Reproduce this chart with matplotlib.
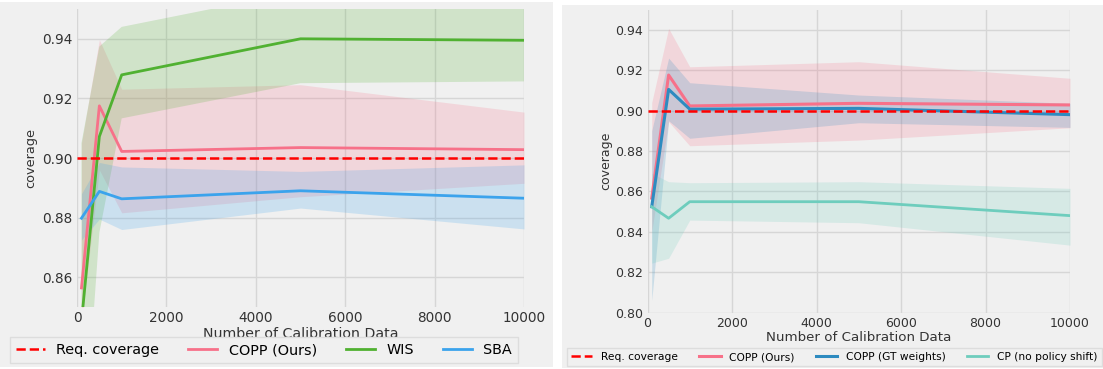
# coverage vs number of calibration data, two panels

import matplotlib
matplotlib.use('Agg')
import matplotlib.pyplot as plt
from matplotlib.patches import Rectangle

# ---- data ----
n_calib = [100, 500, 1000, 5000, 10000]
req_coverage = 0.9

# left panel
copp_left = [0.8564, 0.9175, 0.9022, 0.9035, 0.9028]
copp_left_lo = [0.845, 0.896, 0.8816, 0.887, 0.8915]
copp_left_hi = [0.905, 0.9397, 0.9231, 0.9246, 0.9154]

wis = [0.845, 0.9072, 0.9279, 0.9400, 0.9395]
wis_lo = [0.790, 0.875, 0.9133, 0.9251, 0.9257]
wis_hi = [0.905, 0.9374, 0.944, 0.956, 0.956]

sba = [0.8798, 0.8888, 0.8863, 0.889, 0.8865]
sba_lo = [0.8725, 0.8795, 0.876, 0.8832, 0.8762]
sba_hi = [0.888, 0.8985, 0.897, 0.8955, 0.8977]

# right panel
copp_right = [0.8567, 0.9176, 0.9023, 0.9036, 0.9028]
copp_right_lo = [0.840, 0.8945, 0.8826, 0.8854, 0.8915]
copp_right_hi = [0.904, 0.9407, 0.9217, 0.9242, 0.916]

copp_gt = [0.8524, 0.9105, 0.9007, 0.9011, 0.898]
copp_gt_lo = [0.806, 0.895, 0.8863, 0.894, 0.8917]
copp_gt_hi = [0.890, 0.926, 0.9138, 0.9077, 0.9036]

cp = [0.8524, 0.8467, 0.8549, 0.8549, 0.848]
cp_lo = [0.8245, 0.8269, 0.8458, 0.8445, 0.8334]
cp_hi = [0.869, 0.8648, 0.8643, 0.8648, 0.8615]

# colours
BG = '#f0f0f0'
RED = '#ff0000'
PINK = '#f77189'
GREEN = '#50b131'
BLUE = '#3ba3ec'
DBLUE = '#2e8bc0'
TEAL = '#6ecdbd'

W, H = 1103, 369
fig = plt.figure(figsize=(W / 100, H / 100), dpi=100, facecolor='white')

# grey panel backgrounds with a white gap between them
fig.add_artist(Rectangle((0, 2 / H), 553 / W, 365 / H, transform=fig.transFigure,
                         facecolor=BG, edgecolor='none', zorder=0))
fig.add_artist(Rectangle((562 / W, 1 / H), 541 / W, 363 / H, transform=fig.transFigure,
                         facecolor=BG, edgecolor='none', zorder=0))


def px_axes(l, r, t, b):
    return fig.add_axes([l / W, 1 - b / H, (r - l) / W, (b - t) / H])


def style(ax, fs):
    ax.set_facecolor(BG)
    for s in ax.spines.values():
        s.set_visible(False)
    ax.grid(True, color='#d6d6d6', lw=1)
    ax.set_axisbelow(True)
    ax.tick_params(length=0, labelsize=fs, colors='#333333', pad=3)
    ax.set_xlim(0, 10000)
    ax.set_xticks([0, 2000, 4000, 6000, 8000, 10000])


# ---- left panel ----
ax1 = px_axes(77, 524, 9, 307)
style(ax1, 9.8)
ax1.set_ylim(0.85, 0.95)
ax1.set_yticks([0.86, 0.88, 0.90, 0.92, 0.94])
ax1.set_yticklabels(['0.86', '0.88', '0.90', '0.92', '0.94'])

ax1.axhline(req_coverage, color=RED, ls='--', lw=1.8, label='Req. coverage', zorder=5)
ax1.plot(n_calib, copp_left, color=PINK, lw=2, label='COPP (Ours)')
ax1.fill_between(n_calib, copp_left_lo, copp_left_hi, color=PINK, alpha=0.2, lw=0)
ax1.plot(n_calib, wis, color=GREEN, lw=2, label='WIS')
ax1.fill_between(n_calib, wis_lo, wis_hi, color=GREEN, alpha=0.2, lw=0)
ax1.plot(n_calib, sba, color=BLUE, lw=2, label='SBA')
ax1.fill_between(n_calib, sba_lo, sba_hi, color=BLUE, alpha=0.2, lw=0)

ax1.set_xlabel('Number of Calibration Data', fontsize=10.2, color='#333333', labelpad=1)
ax1.set_ylabel('coverage', fontsize=9.3, color='#333333', labelpad=4)
leg1 = ax1.legend(loc='center', bbox_to_anchor=(264 / W, 1 - 350 / H),
                  bbox_transform=fig.transFigure, ncol=4, fontsize=10.4,
                  facecolor=BG, edgecolor='#dddddd', framealpha=1, fancybox=False)

# ---- right panel ----
ax2 = px_axes(647.5, 1070, 9.6, 312.6)
style(ax2, 9)
ax2.set_ylim(0.80, 0.95)
ax2.set_yticks([0.80, 0.82, 0.84, 0.86, 0.88, 0.90, 0.92, 0.94])
ax2.set_yticklabels(['0.80', '0.82', '0.84', '0.86', '0.88', '0.90', '0.92', '0.94'])

ax2.axhline(req_coverage, color=RED, ls='--', lw=1.8, label='Req. coverage', zorder=5)
ax2.plot(n_calib, copp_right, color=PINK, lw=2.2, label='COPP (Ours)')
ax2.fill_between(n_calib, copp_right_lo, copp_right_hi, color=PINK, alpha=0.2, lw=0)
ax2.plot(n_calib, copp_gt, color=DBLUE, lw=2.2, label='COPP (GT weights)')
ax2.fill_between(n_calib, copp_gt_lo, copp_gt_hi, color=DBLUE, alpha=0.2, lw=0)
ax2.plot(n_calib, cp, color=TEAL, lw=2, label='CP (no policy shift)')
ax2.fill_between(n_calib, cp_lo, cp_hi, color=TEAL, alpha=0.2, lw=0)

ax2.set_xlabel('Number of Calibration Data', fontsize=9.6, color='#333333', labelpad=1)
ax2.set_ylabel('coverage', fontsize=9, color='#333333', labelpad=2)
leg2 = ax2.legend(loc='center', bbox_to_anchor=(834 / W, 1 - 357 / H),
                  bbox_transform=fig.transFigure, ncol=4, fontsize=7.7,
                  facecolor=BG, edgecolor='#dddddd', framealpha=1, fancybox=False)

fig.savefig('out.png', dpi=100, facecolor='white')
